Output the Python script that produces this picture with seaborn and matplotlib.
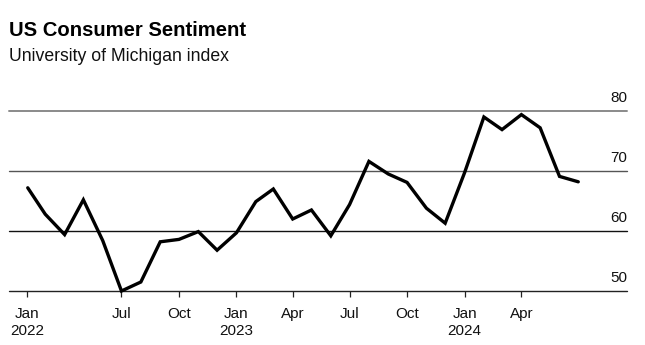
import matplotlib
matplotlib.use("Agg")
import matplotlib.pyplot as plt
import matplotlib.transforms as mtransforms
import pandas as pd
import seaborn as sns

# University of Michigan consumer sentiment, monthly (Jan 2022 - Jun 2024)
months = pd.date_range("2022-01-01", "2024-06-01", freq="MS")
sentiment = [
    67.2, 62.8, 59.4, 65.2, 58.4, 50.0, 51.5, 58.2, 58.6, 59.9, 56.8, 59.7,
    64.9, 67.0, 62.0, 63.5, 59.2, 64.4, 71.6, 69.5, 68.1, 63.8, 61.3, 69.7,
    79.0, 76.9, 79.4, 77.2, 69.1, 68.2,
]

tick_dates = ["2022-01-31", "2022-07-01", "2022-10-01", "2023-01-01", "2023-04-01",
              "2023-07-01", "2023-10-01", "2024-01-01", "2024-04-01"]
tick_labels = ["Jan\n2022", "Jul", "Oct", "Jan\n2023", "Apr", "Jul", "Oct", "Jan\n2024", "Apr"]
grid_values = [50, 60, 70, 80]
grid_colors = ["#222222", "#111111", "#555555", "#8a8a8a"]

sns.set_style("white")
plt.rcParams["font.family"] = ["Liberation Sans", "DejaVu Sans"]

# each monthly reading is plotted at the end of its month
df = pd.DataFrame({"date": months + pd.offsets.MonthEnd(0) + pd.Timedelta(days=1),
                   "value": sentiment})

W, H = 645, 345
fig = plt.figure(figsize=(W / 100, H / 100), dpi=100)
left, right, top, bottom = 9, 627, 111, 291
ax = fig.add_axes([left / W, (H - bottom) / H, (right - left) / W, (bottom - top) / H])

sns.lineplot(data=df, x="date", y="value", ax=ax, color="black", linewidth=2.4,
             solid_joinstyle="miter", clip_on=False)

ax.set_xlim(pd.Timestamp("2022-01-02"), pd.Timestamp("2024-09-17"))
ax.set_ylim(50, 80)

for v, c in zip(grid_values, grid_colors):
    ax.axhline(v, color=c, linewidth=1.0 if v != 80 else 1.4, zorder=0, clip_on=False)
    ax.text(1.0, v, str(v), transform=mtransforms.blended_transform_factory(ax.transAxes, ax.transData)
            + mtransforms.ScaledTranslation(0, 9 / 100, fig.dpi_scale_trans),
            ha="right", va="baseline", fontsize=11, color="#111111")

for s in ax.spines.values():
    s.set_visible(False)

ax.set_xticks(pd.to_datetime(tick_dates))
ax.set_xticklabels(tick_labels, fontsize=11, linespacing=1.2, color="#111111")
ax.set_yticks([])
ax.tick_params(axis="x", length=4.3, width=0.9, color="#222222", pad=7.5, direction="out",
               bottom=True)
ax.set_xlabel("")
ax.set_ylabel("")

fig.text(9 / W, 1 - 36 / H, "US Consumer Sentiment", fontsize=14.6, fontweight="bold",
         ha="left", va="baseline", color="black")
fig.text(9 / W, 1 - 61 / H, "University of Michigan index", fontsize=12.7,
         ha="left", va="baseline", color="#111111")

fig.savefig("out.png", dpi=100)
